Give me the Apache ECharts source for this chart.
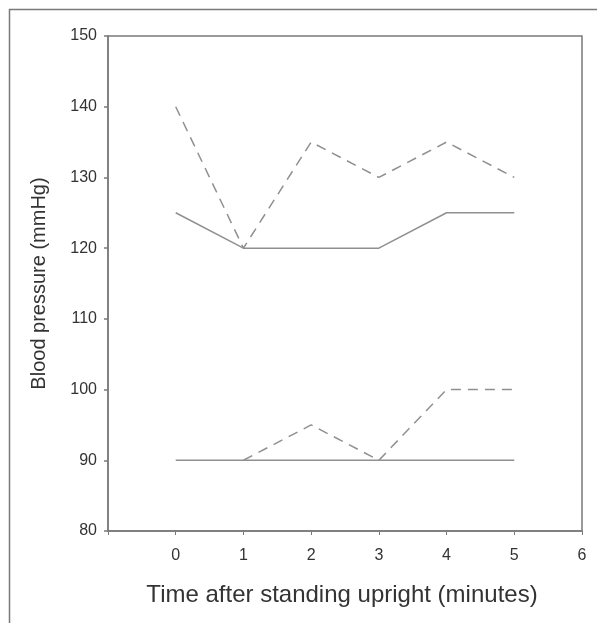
<!DOCTYPE html>
<html>
<head>
<meta charset="utf-8">
<script src="https://cdn.jsdelivr.net/npm/echarts@6/dist/echarts.min.js"></script>
<style>html,body{margin:0;padding:0;background:#fff}#c{width:597px;height:623px}</style>
</head>
<body>
<div id="c"></div>
<script>
var times = [0, 1, 2, 3, 4, 5];
var upperDashed = [140, 120, 135, 130, 135, 130];
var upperSolid = [125, 120, 120, 120, 125, 125];
var lowerDashed = [null, 90, 95, 90, 100, 100];
var lowerSolid = [90, 90, 90, 90, 90, 90];
var xTickLabels = {"0":"0","1":"1","2":"2","3":"3","4":"4","5":"5","6":"6"};
var yTicks = [80, 90, 100, 110, 120, 130, 140, 150];

function pairs(vals) {
  return times.map(function (t, i) { return [t, vals[i]]; }).filter(function (p) { return p[1] !== null; });
}
var lineColor = '#909090';
var axisColor = '#7a7a7a';
var textColor = '#333';
var font = 'Liberation Sans, Arial, sans-serif';

var chart = echarts.init(document.getElementById('c'), null, {renderer: 'canvas'});
chart.setOption({
  animation: false,
  graphic: [{
    type: 'rect', left: 7, top: 7, shape: {x: 0, y: 0, width: 620, height: 640},
    style: {fill: 'none', stroke: '#7a7a7a', lineWidth: 1.5}, silent: true
  }],
  grid: {left: 108, top: 36, right: 15, bottom: 92, show: true, borderColor: axisColor, borderWidth: 1.5, backgroundColor: 'transparent'},
  xAxis: {
    type: 'value', min: -1, max: 6, interval: 1,
    name: 'Time after standing upright (minutes)', nameLocation: 'middle', nameGap: 52,
    nameTextStyle: {fontSize: 24, color: textColor, fontFamily: font, padding: [0, 6, 0, 0]},
    axisLine: {onZero: false, lineStyle: {color: axisColor, width: 1.5}},
    axisTick: {show: true, length: 4, lineStyle: {color: axisColor, width: 1}},
    axisLabel: {fontSize: 16, color: textColor, fontFamily: font, margin: 17,
      formatter: function (v) { return xTickLabels[String(v)] || ''; }},
    splitLine: {show: false}
  },
  yAxis: {
    type: 'value', min: 80, max: 150, interval: 10,
    name: 'Blood pressure (mmHg)', nameLocation: 'middle', nameGap: 59, nameRotate: 90,
    nameTextStyle: {fontSize: 20, color: textColor, fontFamily: font},
    axisLine: {onZero: false, lineStyle: {color: axisColor, width: 1.5}},
    axisTick: {show: true, length: 4, lineStyle: {color: axisColor, width: 1.5}},
    axisLabel: {fontSize: 16, color: textColor, fontFamily: font, margin: 11,
      formatter: function (v) { return yTicks.indexOf(v) >= 0 ? String(v) : ''; }},
    splitLine: {show: false}
  },
  series: [
    {type: 'line', data: pairs(upperDashed), symbol: 'none', lineStyle: {color: lineColor, width: 1.5, type: [10, 7]}},
    {type: 'line', data: pairs(upperSolid), symbol: 'none', lineStyle: {color: lineColor, width: 1.5}},
    {type: 'line', data: pairs(lowerDashed), symbol: 'none', lineStyle: {color: lineColor, width: 1.5, type: [10, 7]}},
    {type: 'line', data: pairs(lowerSolid), symbol: 'none', lineStyle: {color: lineColor, width: 1.5}}
  ]
});
</script>
</body>
</html>
